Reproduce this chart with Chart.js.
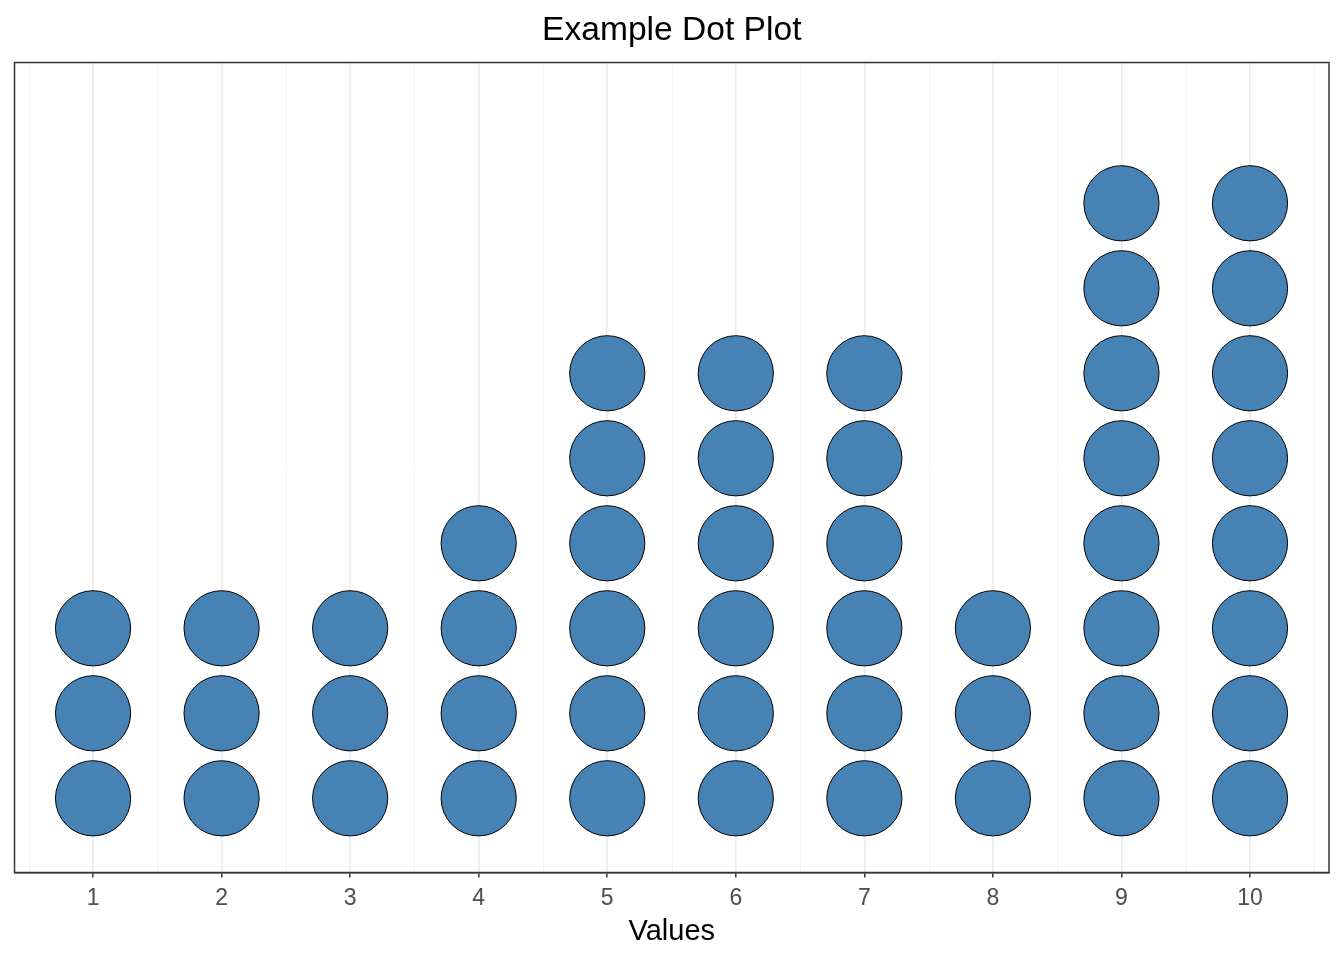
<!DOCTYPE html>
<html>
<head>
<meta charset="utf-8">
<script src="https://cdn.jsdelivr.net/npm/chart.js@4"></script>
<style>
html,body{margin:0;padding:0;background:#fff;}
canvas{display:block;}
</style>
</head>
<body>
<canvas id="c" width="1344" height="960"></canvas>
<script>
// ---- data ----
const values = [1, 2, 3, 4, 5, 6, 7, 8, 9, 10];
const counts = [3, 3, 3, 4, 6, 6, 6, 3, 8, 8];
const xTickLabels = ['1','2','3','4','5','6','7','8','9','10'];
const minorGridValues = [0.5, 1.5, 2.5, 3.5, 4.5, 5.5, 6.5, 7.5, 8.5, 9.5, 10.5];
const titleText = 'Example Dot Plot';
const xTitleText = 'Values';

// stack each count into dots (one dot per observation)
const points = [];
values.forEach((v, i) => {
  for (let k = 1; k <= counts[i]; k++) points.push({x: v, y: k});
});

const FONT = '"Liberation Sans", Arial, "DejaVu Sans", sans-serif';

const panelPlugin = {
  id: 'panel',
  beforeDatasetsDraw(chart) {
    const {ctx, chartArea: a, scales: {x}} = chart;
    ctx.save();
    ctx.strokeStyle = '#F2F2F2';
    ctx.lineWidth = 1;
    minorGridValues.forEach(v => {
      const px = Math.round(x.getPixelForValue(v)) + 0.5;
      ctx.beginPath();
      ctx.moveTo(px, a.top);
      ctx.lineTo(px, a.bottom);
      ctx.stroke();
    });
    ctx.restore();
  },
  afterDatasetsDraw(chart) {
    const {ctx, chartArea: a} = chart;
    ctx.save();
    ctx.strokeStyle = '#333333';
    ctx.lineWidth = 1.5;
    ctx.strokeRect(a.left, a.top, a.right - a.left, a.bottom - a.top);
    ctx.restore();
  }
};

new Chart(document.getElementById('c'), {
  type: 'scatter',
  data: {
    datasets: [{
      data: points,
      backgroundColor: '#4682B4',
      borderColor: '#000000',
      borderWidth: 1,
      pointRadius: 37.6,
      pointHoverRadius: 37.6
    }]
  },
  options: {
    responsive: false,
    animation: false,
    events: [],
    layout: {autoPadding: false, padding: {left: 14.5, right: 15, top: 0, bottom: 0}},
    plugins: {
      legend: {display: false},
      tooltip: {enabled: false},
      title: {
        display: true,
        text: titleText,
        color: '#000000',
        font: {family: FONT, size: 33.6, weight: 'normal'},
        padding: {top: 11, bottom: 11.2}
      }
    },
    scales: {
      x: {
        type: 'linear',
        min: 0.389,
        max: 10.6145,
        afterBuildTicks(scale) {
          scale.ticks = values.map(v => ({value: v}));
        },
        afterFit(scale) {
          scale.height = 87.5;
          scale.paddingLeft = 0;
          scale.paddingRight = 0;
        },
        ticks: {
          color: '#4D4D4D',
          font: {family: FONT, size: 23},
          padding: 7.5,
          maxRotation: 0,
          autoSkip: false,
          callback: (v, i) => xTickLabels[i]
        },
        grid: {
          color: '#EBEBEB',
          lineWidth: 1.6,
          drawTicks: true,
          tickLength: 5,
          tickColor: '#333333',
          tickWidth: 1.5
        },
        border: {display: true, color: '#333333', width: 1.5},
        title: {
          display: true,
          text: xTitleText,
          color: '#000000',
          font: {family: FONT, size: 29},
          padding: {top: 4, bottom: 11}
        }
      },
      y: {
        type: 'linear',
        display: false,
        min: 0.127,
        max: 9.656
      }
    }
  },
  plugins: [panelPlugin]
});
</script>
</body>
</html>
